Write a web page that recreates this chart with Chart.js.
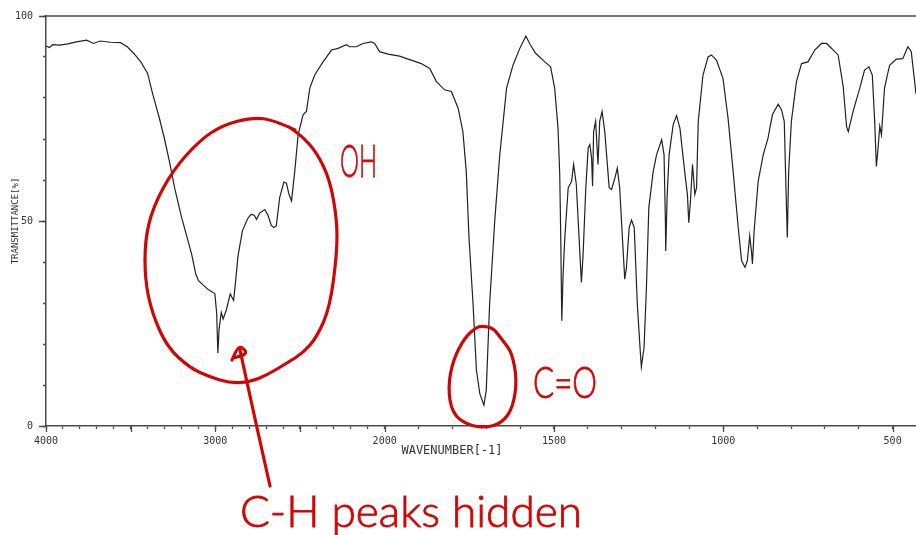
<!DOCTYPE html>
<html>
<head>
<meta charset="utf-8">
<script src="https://cdn.jsdelivr.net/npm/chart.js@4.4.1/dist/chart.umd.min.js"></script>
<style>
  html, body { margin: 0; padding: 0; background: #fff; }
  canvas { display: block; }
</style>
</head>
<body>
<canvas id="irChart" width="916" height="535"></canvas>
<script>
// wavenumbers (cm-1) and % transmittance
const wavenumbers = [
  4000, 3980, 3960, 3920, 3870, 3820, 3760, 3720, 3680, 3620, 3560, 3520, 3480, 3440, 3400,
  3370, 3330, 3300, 3270, 3240, 3200, 3170, 3140, 3115, 3100, 3070, 3040, 3003, 2992, 2985,
  2978, 2965, 2954, 2935, 2912, 2892, 2880, 2866, 2840, 2810, 2790, 2770, 2757, 2737, 2708,
  2690, 2670, 2655, 2640, 2620, 2595, 2580, 2565, 2550, 2531, 2511, 2482, 2462, 2442, 2413,
  2364, 2314, 2275, 2226, 2207, 2167, 2128, 2079, 2059, 2030, 1990, 1956, 1892, 1867, 1847,
  1823, 1803, 1783, 1769, 1759, 1751, 1739, 1729, 1719, 1707, 1700, 1690, 1675, 1660, 1640,
  1621, 1601, 1583, 1570, 1554, 1527, 1510, 1498, 1488, 1483, 1480, 1477, 1473, 1468, 1458,
  1448, 1442, 1434, 1426, 1419, 1414, 1406, 1399, 1394, 1389, 1386, 1383, 1377, 1370, 1365,
  1358, 1350, 1337, 1330, 1320, 1313, 1306, 1298, 1291, 1286, 1278, 1271, 1263, 1254, 1246,
  1242, 1234, 1227, 1220, 1207, 1197, 1182, 1175, 1171, 1170, 1166, 1160, 1148, 1138, 1128,
  1113, 1106, 1102, 1097, 1091, 1084, 1079, 1074, 1060, 1045, 1035, 1020, 1001, 986, 971,
  956, 946, 936, 929, 922, 917, 914, 909, 897, 882, 868, 855, 838, 828, 820,
  815, 811, 807, 799, 784, 769, 750, 730, 710, 695, 661, 646, 636, 631, 617,
  597, 583, 570, 560, 553, 548, 543, 538, 533, 524, 509, 489, 470, 455, 445,
  435, 431
];
const transmittance = [
  92.7, 92.3, 93.0, 92.9, 93.2, 93.7, 94.1, 93.3, 93.9, 93.6, 93.5, 92.5, 90.8, 88.8, 86.0,
  81.0, 75.0, 70.0, 64.3, 58.0, 51.0, 46.5, 41.9, 37.0, 35.5, 34.3, 33.2, 32.3, 27.5, 17.8,
  23.5, 27.7, 26.1, 28.3, 32.2, 30.6, 35.4, 41.5, 47.6, 50.5, 51.6, 51.4, 50.4, 52.0, 52.8,
  51.5, 49.0, 48.4, 48.8, 55.7, 59.5, 59.2, 56.5, 54.9, 62.1, 71.0, 75.9, 76.7, 82.4, 85.6,
  88.8, 91.7, 92.1, 93.0, 92.5, 92.5, 93.3, 93.7, 93.3, 91.3, 90.7, 90.2, 88.4, 87.2, 84.0,
  82.0, 81.6, 77.5, 71.8, 62.1, 46.0, 29.8, 13.6, 7.9, 5.1, 8.7, 29.8, 50.0, 66.2, 82.4,
  88.0, 92.1, 95.1, 93.0, 90.9, 88.8, 87.6, 82.4, 72.6, 61.3, 46.0, 25.7, 37.1, 46.0, 58.1,
  59.7, 63.8, 58.9, 46.0, 35.0, 41.9, 58.1, 67.8, 68.6, 65.4, 58.5, 71.8, 74.3, 63.8, 74.3,
  76.7, 71.8, 58.1, 57.7, 60.5, 62.9, 58.1, 46.0, 35.8, 38.7, 48.4, 50.2, 48.4, 29.8, 19.2,
  14.4, 19.2, 33.8, 53.2, 62.1, 66.2, 69.8, 66.2, 50.0, 42.7, 55.7, 66.2, 73.5, 75.7, 72.6,
  61.3, 56.5, 49.6, 54.9, 63.8, 56.5, 58.1, 74.3, 85.6, 90.0, 90.5, 89.2, 84.8, 75.1, 62.1,
  48.4, 40.3, 38.7, 40.3, 46.4, 42.7, 39.5, 47.6, 59.7, 66.2, 70.2, 75.9, 78.5, 77.1, 74.3,
  58.1, 46.0, 62.1, 74.3, 84.0, 88.4, 88.8, 91.7, 93.3, 93.3, 90.5, 82.8, 73.0, 71.8, 76.7,
  82.4, 86.8, 87.6, 85.6, 74.3, 63.3, 67.8, 73.1, 71.0, 82.4, 88.0, 89.5, 89.6, 92.5, 91.3,
  84.0, 81.0
];

const xTicks = [];
for (let v = 4000; v >= 500; v -= 100) xTicks.push(v);
const xLabels = [4000, 3000, 2000, 1500, 1000, 500];
const yTicks = [0, 10, 20, 30, 40, 50, 60, 70, 80, 90, 100];
const yLabels = [0, 50, 100];

const RED = 'rgb(208,6,6)';
const AXIS = '#4a4a4a';

// IR charts switch to double scale below 2000 cm-1
class IrScale extends Chart.LinearScale {
  toU(v) { return v >= 2000 ? (4000 - v) / 2 : 1000 + (2000 - v); }
  fromU(u) { return u <= 1000 ? 4000 - 2 * u : 2000 - (u - 1000); }
  getPixelForValue(v) {
    const u0 = this.toU(this.max), u1 = this.toU(this.min);
    return this.left + (this.toU(v) - u0) / (u1 - u0) * this.width;
  }
  getValueForPixel(p) {
    const u0 = this.toU(this.max), u1 = this.toU(this.min);
    return this.fromU(u0 + (p - this.left) / this.width * (u1 - u0));
  }
}
IrScale.id = 'ir';
IrScale.defaults = Chart.LinearScale.defaults;
Chart.register(IrScale);

function smooth(ctx, pts, closed) {
  ctx.beginPath();
  const n = pts.length;
  const mid = (a, b) => [(a[0] + b[0]) / 2, (a[1] + b[1]) / 2];
  if (closed) {
    let m = mid(pts[n - 1], pts[0]);
    ctx.moveTo(m[0], m[1]);
    for (let i = 0; i < n; i++) {
      const m2 = mid(pts[i], pts[(i + 1) % n]);
      ctx.quadraticCurveTo(pts[i][0], pts[i][1], m2[0], m2[1]);
    }
  } else {
    ctx.moveTo(pts[0][0], pts[0][1]);
    for (let i = 1; i < n - 1; i++) {
      const m2 = mid(pts[i], pts[i + 1]);
      ctx.quadraticCurveTo(pts[i][0], pts[i][1], m2[0], m2[1]);
    }
    ctx.lineTo(pts[n - 1][0], pts[n - 1][1]);
  }
  ctx.stroke();
}

function handText(ctx, text, x, baseline, size, width) {
  ctx.save();
  ctx.font = '300 ' + size + 'px Lato, "Liberation Sans"';
  ctx.textBaseline = 'alphabetic';
  ctx.textAlign = 'left';
  const w = ctx.measureText(text).width;
  ctx.translate(x, baseline);
  ctx.scale(width / w, 1);
  ctx.fillStyle = RED;
  ctx.strokeStyle = RED;
  ctx.lineWidth = 0.8;
  ctx.fillText(text, 0, 0);
  ctx.strokeText(text, 0, 0);
  ctx.restore();
}

const frame = {
  id: 'frame',
  afterDraw(chart) {
    const { ctx, chartArea: a, scales: { x, y } } = chart;
    ctx.save();
    ctx.strokeStyle = AXIS;
    ctx.lineWidth = 1.3;
    ctx.beginPath();
    ctx.moveTo(a.left, a.top);
    ctx.lineTo(a.right, a.top);
    xTicks.filter(v => v % 500 === 0).forEach(v => {
      const px = Math.round(x.getPixelForValue(v)) + 0.5;
      ctx.moveTo(px, a.bottom);
      ctx.lineTo(px, a.bottom + 6);
    });
    yLabels.forEach(v => {
      const py = Math.round(y.getPixelForValue(v)) + 0.5;
      ctx.moveTo(a.left - 7, py);
      ctx.lineTo(a.left, py);
    });
    ctx.stroke();

    ctx.fillStyle = '#333';
    ctx.font = '12px "DejaVu Sans Mono"';
    ctx.textAlign = 'center';
    ctx.textBaseline = 'middle';
    ctx.fillText('WAVENUMBER[-1]', 452, 451);

    // hand-drawn notes
    ctx.strokeStyle = RED;
    ctx.lineWidth = 3.2;
    ctx.lineCap = 'round';
    ctx.lineJoin = 'round';
    smooth(ctx, [[295, 130], [272, 119], [250, 118], [223, 125], [200, 140], [173, 170],
      [153, 207], [145, 240], [145, 280], [152, 313], [167, 347], [190, 368], [210, 377],
      [230, 383], [250, 382], [267, 375], [287, 363], [303, 353], [317, 337], [330, 307],
      [337, 253], [337, 220], [330, 180], [317, 153], [303, 137], [289, 127]], false);
    smooth(ctx, [[483, 326], [493, 328], [500, 337], [504, 342], [512, 353], [517, 380],
      [513, 407], [503, 422], [487, 428], [467, 425], [452, 413], [448, 387], [453, 360],
      [465, 337], [477, 327]], true);
    smooth(ctx, [[270, 486], [262, 450], [253, 410], [240, 350]], false);
    smooth(ctx, [[232, 360], [237, 348], [242, 347], [247, 353], [241, 356], [233, 358]], false);
    ctx.restore();

    handText(ctx, 'OH', 340, 177, 46, 37);
    handText(ctx, 'C=O', 533, 398, 43, 64);
    handText(ctx, 'C-H peaks hidden', 240, 527, 44, 342);
  }
};

new Chart(document.getElementById('irChart'), {
  type: 'line',
  data: {
    datasets: [{
      data: wavenumbers.map((w, i) => ({ x: w, y: transmittance[i] })),
      borderColor: '#222',
      borderWidth: 1.2,
      pointRadius: 0,
      tension: 0,
      fill: false
    }]
  },
  options: {
    responsive: false,
    animation: false,
    layout: { padding: { top: 14, right: 0, bottom: 0, left: 0 } },
    plugins: { legend: { display: false }, tooltip: { enabled: false } },
    scales: {
      x: {
        type: 'ir',
        min: 431,
        max: 4000,
        afterFit: s => { s.height = 109; },
        afterBuildTicks: s => { s.ticks = xTicks.map(v => ({ value: v })); },
        grid: { drawOnChartArea: false, drawTicks: true, tickLength: 3, tickColor: AXIS, tickWidth: 1.3 },
        border: { display: true, color: AXIS, width: 1.5 },
        ticks: {
          autoSkip: false,
          maxRotation: 0,
          padding: 6,
          color: '#333',
          font: { family: '"DejaVu Sans Mono"', size: 10 },
          callback: v => xLabels.includes(v) ? String(v) : ''
        }
      },
      y: {
        min: 0,
        max: 100,
        afterFit: s => { s.width = 46; },
        afterBuildTicks: s => { s.ticks = yTicks.map(v => ({ value: v })); },
        grid: { drawOnChartArea: false, drawTicks: true, tickLength: 3, tickColor: AXIS, tickWidth: 1.3 },
        border: { display: true, color: AXIS, width: 1.5 },
        ticks: {
          padding: 10,
          color: '#333',
          font: { family: '"DejaVu Sans Mono"', size: 10 },
          callback: v => yLabels.includes(v) ? String(v) : ''
        },
        title: {
          display: true,
          text: 'TRANSMITTANCE[%]',
          color: '#333',
          font: { family: '"DejaVu Sans Mono"', size: 9 },
          padding: { top: 10, bottom: 0 }
        }
      }
    }
  },
  plugins: [frame]
});
</script>
</body>
</html>
